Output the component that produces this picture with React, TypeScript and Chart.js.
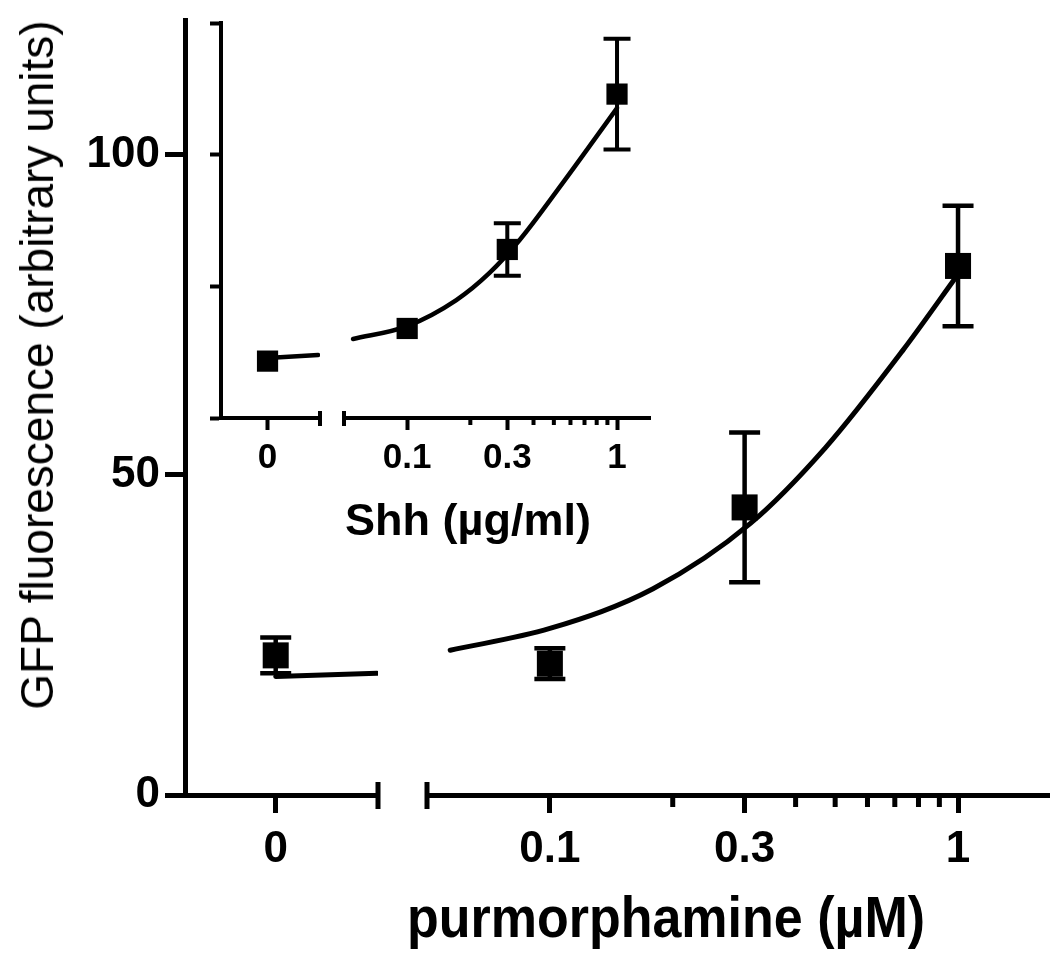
import React, { useEffect, useRef } from 'react';
import { Chart, registerables } from 'chart.js';

Chart.register(...registerables);

const FONT = '"Liberation Sans", Arial, Helvetica, sans-serif';

// ---- main chart: purmorphamine dose response ----
const PUR_CTRL_X = [0];
const PUR_CTRL_MEAN = [21.8];
const PUR_CTRL_SEM = [2.8];
const PUR_DOSES = [0.1, 0.3, 1];
const PUR_MEANS = [20.5, 44.9, 82.6];
const PUR_SEM = [2.4, 11.7, 9.4];
const PUR_FIT0_X = [0, 1.05];
const PUR_FIT0_Y = [18.5, 19.0];
const PUR_FIT_X = [0.057, 0.1, 0.179, 0.31, 0.473, 0.73, 1.0];
const PUR_FIT_Y = [22.6, 26.0, 32.2, 42.4, 54.2, 69.3, 81.3];

// ---- inset: Shh dose response ----
const SHH_CTRL_X = [0];
const SHH_CTRL_MEAN = [21.6];
const SHH_CTRL_SEM = [0];
const SHH_DOSES = [0.1, 0.3, 1];
const SHH_MEANS = [34, 64, 123];
const SHH_SEM = [0, 10, 21];
const SHH_FIT0_X = [0, 1.02];
const SHH_FIT0_Y = [22.8, 23.9];
const SHH_FIT_X = [0.0552, 0.1, 0.1715, 0.2468, 0.3435, 0.5515, 1.0];
const SHH_FIT_Y = [30.0, 34.9, 44.8, 55.1, 67.6, 89.3, 117.7];

// ---- ticks ----
const Y_TICKS = [0, 50, 100];
const INSET_Y_TICKS = [0, 50, 100, 150];
const ZERO_TICKS = [0];
const LOG_TICKS = [0.1, 0.3, 1];
const LOG_MINOR = [0.2, 0.4, 0.5, 0.6, 0.7, 0.8, 0.9];

function pts(xs: number[], ys: number[]) {
  return xs.map((x, i) => ({ x, y: ys[i] }));
}

function decor(s: any) {
  return {
    id: 'decor',
    afterDatasetsDraw(chart: any) {
      const ctx = chart.ctx;
      ctx.save();
      ctx.strokeStyle = '#000';
      ctx.lineCap = 'butt';
      chart.data.datasets.forEach((ds: any, i: number) => {
        const errs = ds.errorBars;
        if (!errs) return;
        const meta = chart.getDatasetMeta(i);
        const ys = chart.scales[meta.yAxisID];
        ctx.lineWidth = s.errW;
        meta.data.forEach((pt: any, j: number) => {
          const v = ds.data[j].y;
          const e = errs[j];
          if (!e) return;
          const x = pt.x;
          const t = ys.getPixelForValue(v + e);
          const b = ys.getPixelForValue(v - e);
          ctx.beginPath();
          ctx.moveTo(x, t);
          ctx.lineTo(x, b);
          ctx.moveTo(x - s.capHalf, t);
          ctx.lineTo(x + s.capHalf, t);
          ctx.moveTo(x - s.capHalf, b);
          ctx.lineTo(x + s.capHalf, b);
          ctx.stroke();
        });
      });
      ctx.restore();
    },
    afterDraw(chart: any) {
      const ctx = chart.ctx;
      const z = chart.scales.x0;
      const l = chart.scales.xl;
      const y0 = z.top;
      ctx.save();
      ctx.strokeStyle = '#000';
      ctx.lineWidth = s.axisW;
      ctx.beginPath();
      [z.right, l.left].forEach((x: number) => {
        ctx.moveTo(x, y0 - s.breakUp);
        ctx.lineTo(x, y0 + s.breakDown);
      });
      LOG_MINOR.forEach((v) => {
        const x = l.getPixelForValue(v);
        ctx.moveTo(x, y0);
        ctx.lineTo(x, y0 + s.minorLen);
      });
      ctx.stroke();
      ctx.restore();
    },
  };
}

function makeConfig(s: any): any {
  const tickFont = { family: FONT, size: s.tickFont, weight: 'bold' };
  const gridX = {
    display: true,
    drawOnChartArea: false,
    drawTicks: true,
    tickLength: s.majorLen,
    tickWidth: s.axisW,
    tickColor: '#000',
  };
  const border = { display: true, color: '#000', width: s.axisW };
  const xTicks = {
    font: tickFont,
    color: '#000',
    padding: s.xPad,
    maxRotation: 0,
    autoSkip: false,
    callback: (v: any) => String(v),
  };
  const xFit = (sc: any) => {
    sc.height = s.xHeight;
    sc.paddingLeft = 0;
    sc.paddingRight = 0;
  };
  const lineDs = (data: any, xid: string, extra: any) => ({
    data,
    xAxisID: xid,
    yAxisID: 'y',
    showLine: true,
    borderColor: '#000',
    borderWidth: s.lineW,
    pointRadius: 0,
    pointHoverRadius: 0,
    borderCapStyle: 'round',
    ...extra,
  });
  const ptDs = (data: any, errs: number[], xid: string) => ({
    data,
    errorBars: errs,
    xAxisID: xid,
    yAxisID: 'y',
    showLine: false,
    pointStyle: 'rect',
    pointRadius: s.r,
    pointHoverRadius: s.r,
    backgroundColor: '#000',
    borderColor: '#000',
    borderWidth: 0,
  });
  return {
    type: 'scatter',
    data: {
      datasets: [
        lineDs(pts(s.fit0x, s.fit0y), 'x0', { tension: 0 }),
        lineDs(pts(s.fitx, s.fity), 'xl', { cubicInterpolationMode: 'monotone' }),
        ptDs(pts(s.ctrlx, s.ctrly), s.ctrle, 'x0'),
        ptDs(pts(s.dosex, s.dosey), s.dosee, 'xl'),
      ],
    },
    options: {
      responsive: false,
      animation: false,
      events: [],
      layout: { padding: s.padding, autoPadding: false },
      plugins: {
        legend: { display: false },
        tooltip: { enabled: false },
        title: { display: false },
      },
      scales: {
        x0: {
          type: 'linear',
          axis: 'x',
          position: 'bottom',
          stack: 'xs',
          stackWeight: s.w0,
          min: s.zeroMin,
          max: s.zeroMax,
          afterBuildTicks: (sc: any) => {
            sc.ticks = ZERO_TICKS.map((v) => ({ value: v }));
          },
          afterFit: xFit,
          ticks: xTicks,
          grid: gridX,
          border,
        },
        xg: {
          type: 'linear',
          axis: 'x',
          position: 'bottom',
          stack: 'xs',
          stackWeight: s.wg,
          min: 0,
          max: 1,
          afterFit: xFit,
          ticks: { display: false },
          grid: { display: false },
          border: { display: false },
        },
        xl: {
          type: 'logarithmic',
          axis: 'x',
          position: 'bottom',
          stack: 'xs',
          stackWeight: s.wl,
          min: s.logMin,
          max: s.logMax,
          afterBuildTicks: (sc: any) => {
            sc.ticks = LOG_TICKS.map((v) => ({ value: v }));
          },
          afterFit: xFit,
          ticks: xTicks,
          grid: gridX,
          border,
        },
        y: {
          type: 'linear',
          axis: 'y',
          position: 'left',
          min: 0,
          max: s.yMax,
          afterBuildTicks: (sc: any) => {
            sc.ticks = s.yTicks.map((v: number) => ({ value: v }));
          },
          afterFit: (sc: any) => {
            sc.width = s.yWidth;
            sc.paddingTop = 0;
            sc.paddingBottom = 0;
          },
          ticks: {
            display: s.yLabels,
            font: tickFont,
            color: '#000',
            padding: 5,
            callback: (v: any) => String(v),
          },
          grid: {
            display: true,
            drawOnChartArea: false,
            drawTicks: true,
            tickLength: s.yTickLen,
            tickWidth: s.axisW,
            tickColor: '#000',
          },
          border,
        },
      },
    },
    plugins: [decor(s)],
  };
}

const MAIN_SPEC = {
  fit0x: PUR_FIT0_X, fit0y: PUR_FIT0_Y,
  fitx: PUR_FIT_X, fity: PUR_FIT_Y,
  ctrlx: PUR_CTRL_X, ctrly: PUR_CTRL_MEAN, ctrle: PUR_CTRL_SEM,
  dosex: PUR_DOSES, dosey: PUR_MEANS, dosee: PUR_SEM,
  yTicks: Y_TICKS, yMax: 121, yLabels: true,
  zeroMin: -0.94, zeroMax: 1.06, logMin: 0.05, logMax: 1.68,
  w0: 193, wg: 49, wl: 623,
  padding: { top: 20, left: 0, right: 0, bottom: 0 },
  yWidth: 185, xHeight: 172,
  tickFont: 44, xPad: 10, majorLen: 18, minorLen: 12, yTickLen: 20,
  axisW: 5, lineW: 5, errW: 4.5, capHalf: 15.5, r: 18.4,
  breakUp: 13, breakDown: 14,
};

const INSET_SPEC = {
  fit0x: SHH_FIT0_X, fit0y: SHH_FIT0_Y,
  fitx: SHH_FIT_X, fity: SHH_FIT_Y,
  ctrlx: SHH_CTRL_X, ctrly: SHH_CTRL_MEAN, ctrle: SHH_CTRL_SEM,
  dosex: SHH_DOSES, dosey: SHH_MEANS, dosee: SHH_SEM,
  yTicks: INSET_Y_TICKS, yMax: 150, yLabels: false,
  zeroMin: -0.94, zeroMax: 1.06, logMin: 0.05, logMax: 1.436,
  w0: 99, wg: 24, wl: 306,
  padding: { top: 23, left: 0, right: 10, bottom: 0 },
  yWidth: 31, xHeight: 82,
  tickFont: 35, xPad: 7, majorLen: 12, minorLen: 7, yTickLen: 11,
  axisW: 4, lineW: 4.5, errW: 4, capHalf: 13.5, r: 15,
  breakUp: 7, breakDown: 8,
};

export default function App() {
  const mainRef = useRef<HTMLCanvasElement>(null);
  const insetRef = useRef<HTMLCanvasElement>(null);

  useEffect(() => {
    const c1 = new Chart(mainRef.current as HTMLCanvasElement, makeConfig(MAIN_SPEC));
    const c2 = new Chart(insetRef.current as HTMLCanvasElement, makeConfig(INSET_SPEC));
    return () => {
      c1.destroy();
      c2.destroy();
    };
  }, []);

  const textBase: any = {
    position: 'absolute',
    whiteSpace: 'nowrap',
    fontFamily: FONT,
    color: '#000',
  };

  return (
    <div
      style={{
        position: 'fixed',
        left: 0,
        top: 0,
        width: 1050,
        height: 967,
        background: '#fff',
        overflow: 'hidden',
      }}
    >
      <canvas
        ref={mainRef}
        width={1050}
        height={967}
        style={{ position: 'absolute', left: 0, top: 0, width: 1050, height: 967 }}
      />
      <canvas
        ref={insetRef}
        width={470}
        height={500}
        style={{ position: 'absolute', left: 190, top: 0, width: 470, height: 500 }}
      />
      <div
        style={{
          ...textBase,
          left: 37,
          top: 365,
          fontSize: 46,
          lineHeight: '46px',
          transform: 'translate(-50%, -50%) rotate(-90deg)',
        }}
      >
        GFP fluorescence (arbitrary units)
      </div>
      <div
        style={{
          ...textBase,
          left: 666,
          top: 917,
          fontSize: 52,
          fontWeight: 'bold',
          lineHeight: '52px',
          transform: 'translate(-50%, -50%) scaleY(1.1)',
        }}
      >
        purmorphamine (µM)
      </div>
      <div
        style={{
          ...textBase,
          left: 468,
          top: 519,
          fontSize: 45,
          fontWeight: 'bold',
          lineHeight: '45px',
          transform: 'translate(-50%, -50%)',
        }}
      >
        Shh (µg/ml)
      </div>
    </div>
  );
}
